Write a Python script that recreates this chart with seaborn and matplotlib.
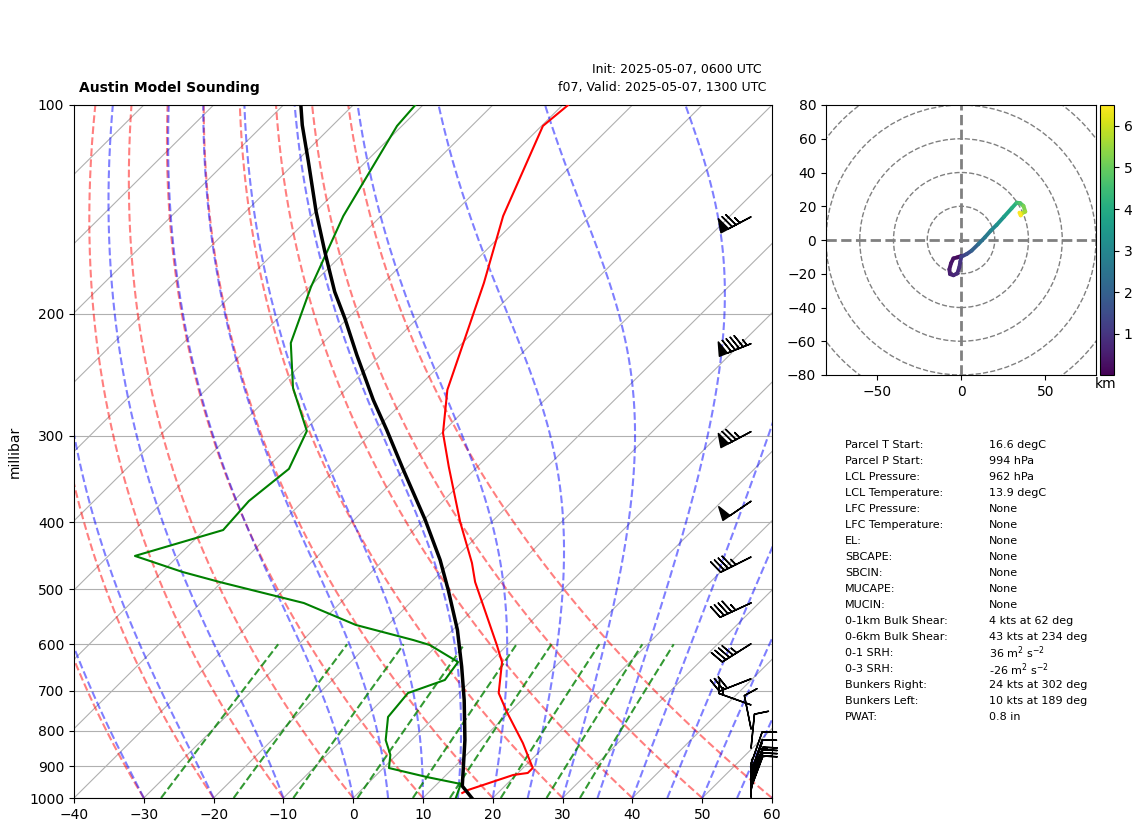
import numpy as np
import pandas as pd
import matplotlib
matplotlib.use('Agg')
import matplotlib.pyplot as plt
from matplotlib.collections import LineCollection
from matplotlib.colors import Normalize
from matplotlib.cm import ScalarMappable
from matplotlib.patches import Circle
from matplotlib.ticker import FixedLocator, NullLocator, ScalarFormatter
import seaborn as sns

# sounding (hPa, degC)
temp_p = [100, 107.2, 144.6, 180.6, 257.7, 297.4, 332.7, 399.7, 458, 487.9, 601.5, 636.5,
          705.6, 751.4, 833.4, 905.2, 920.2, 926.4, 973.8, 983.5]
temp_c = [-69.2, -69.8, -62.5, -55.6, -45.4, -39.8, -34.1, -24.5, -16.9, -13.7, -1.5, 1.7,
          5.7, 9.6, 16.4, 21.4, 21.4, 19.6, 15.3, 14.9]
dewp_p = [100, 107.2, 144.6, 183, 220.5, 256, 295.4, 335, 372.8, 410.5, 447.4, 471.8, 487.9,
          523.2, 562.7, 591.6, 601.5, 636.5, 675.6, 705.6, 764, 825, 866.5, 905.2, 932.6,
          954.5, 1000]
dewp_c = [-91.1, -90.7, -85.4, -79.8, -74.6, -67.8, -59.6, -56.7, -57.8, -57.3, -66.2, -57.1, -50.3,
          -35.2, -24.6, -14.2, -11.1, -4.6, -3.9, -7.3, -6.7, -3.7, -0.9, 0.8, 7.5,
          13.4, 14.7]
parcel_p = [100, 106.9, 120.7, 142.6, 162.8, 186, 203.2, 229.5, 266.5, 294.4, 336.2, 397, 453.4,
            501, 572, 646.4, 722.4, 825, 961, 1000]
parcel_c = [-107.5, -104.4, -98.25, -89.9, -82.9, -75.7, -70.4, -63.4, -54.55, -48.3, -40.15, -29.8, -21.9,
            -16.4, -9.33, -3.41, 1.78, 7.65, 13.9, 17.0]

# wind barbs (kts)
barb_p = [145, 221, 296, 373, 449, 523, 599, 673, 734, 795, 847, 893, 917, 926, 939, 947, 957, 967, 975, 984, 997]
barb_u = [66, 88, 66, 41, 40, 41, 38, 28, 14, 2, -1, -3.3, -3.3, -1.6, -3.5, -3.5, -3.5, -3.5, -2, -0.1, 0]
barb_v = [35, 35, 35, 28, 20, 19, 24, 11, -5, -10, -10, -9.5, -9.5, -4.7, -9.4, -9.4, -9.4, -9.4, -9.8, -5, -5]

# hodograph
hodo_u = [0, -2.2, -4.5, -5.9, -6.9, -6.5, -4.5, -2.2, -1, -0.4, 0.2, 3.4, 6.3, 10.3, 14.2,
          17.6, 21.1, 25.5, 30, 33, 35, 37, 38.1, 36, 35.4, 34.6]
hodo_v = [-9.5, -10.3, -10.9, -13.8, -17.4, -20.2, -20.9, -19.8, -16.2, -12.8, -9.9, -8.3, -6.3, -2.4, 1.6,
          5.5, 8.9, 13.8, 18.8, 22.1, 21.9, 20.2, 16.8, 15.8, 14.6, 16.2]
hodo_z = [0.02, 0.1, 0.2, 0.3, 0.4, 0.5, 0.6, 0.7, 0.8, 0.9, 1.0, 1.3, 1.6, 2.0, 2.4,
          2.7, 3.0, 3.3, 3.7, 4.1, 4.5, 4.8, 5.2, 5.6, 6.0, 6.5]

table_labels = ['Parcel T Start:', 'Parcel P Start:', 'LCL Pressure:', 'LCL Temperature:', 'LFC Pressure:',
                'LFC Temperature:', 'EL:', 'SBCAPE:', 'SBCIN:', 'MUCAPE:', 'MUCIN:', '0-1km Bulk Shear:',
                '0-6km Bulk Shear:', '0-1 SRH:', '0-3 SRH:', 'Bunkers Right:', 'Bunkers Left:', 'PWAT:']
table_values = ['16.6 degC', '994 hPa', '962 hPa', '13.9 degC', 'None', 'None', 'None', 'None', 'None',
                'None', 'None', '4 kts at 62 deg', '43 kts at 234 deg', '36 m$^2$ s$^{-2}$',
                '-26 m$^2$ s$^{-2}$', '24 kts at 302 deg', '10 kts at 189 deg', '0.8 in']

pressure_ticks = [1000, 900, 800, 700, 600, 500, 400, 300, 200, 100]
temp_ticks = [-40, -30, -20, -10, 0, 10, 20, 30, 40, 50, 60]
isotherm_t0 = np.arange(-140, 61, 10)
dry_t0 = np.arange(-40, 61, 10)
moist_t0 = [-40, -30, -20, -10, 0, 5, 10, 15, 20, 25, 30, 35, 40, 45, 50, 55, 60]
mixing_w = [0.0004, 0.001, 0.002, 0.004, 0.007, 0.01, 0.016, 0.024, 0.032]

W, H = 1142, 832


def skew(t, p):
    # 100 degC of lean between 1000 and 100 hPa
    return np.asarray(t, dtype=float) + 100 * np.log10(1000 / np.asarray(p, dtype=float))


def moist_slope(tk, p):
    es = 6.112 * np.exp(17.67 * (tk - 273.15) / (tk - 29.65))
    rs = 0.622 * es / (p - es)
    return (287.05 * tk + 2.5e6 * rs) / (1005.0 + 2.5e6 ** 2 * rs * 0.622 / (287.05 * tk ** 2)) / p


def moist_profile(t0, plevs):
    tk = t0 + 273.15
    out = [tk]
    for p0, p1 in zip(plevs[:-1], plevs[1:]):
        mid = tk + moist_slope(tk, p0) * (p1 - p0) / 2
        tk = tk + moist_slope(mid, (p0 + p1) / 2) * (p1 - p0)
        out.append(tk)
    return np.array(out) - 273.15


def guide_lines(ax, rows, **kws):
    frame = pd.DataFrame(rows, columns=['line', 'x', 'p'])
    sns.lineplot(data=frame, x='x', y='p', units='line', estimator=None, sort=False,
                 legend=False, ax=ax, **kws)


def px_axes(fig, left, top, right, bottom):
    return fig.add_axes([left / W, 1 - bottom / H, (right - left) / W, (bottom - top) / H])


fig = plt.figure(figsize=(W / 100, H / 100), dpi=100)
ax = px_axes(fig, 74, 105, 772, 798)
ax.set_yscale('log')
ax.set_xlim(-40, 60)
ax.set_ylim(1000, 100)

plevs = np.linspace(1000, 100, 400)

rows = []
for t0 in isotherm_t0:
    rows.append(pd.DataFrame({'line': t0, 'x': skew([t0, t0], [1000, 100]), 'p': [1000, 100]}))
guide_lines(ax, pd.concat(rows), color='#b0b0b0', lw=0.8, zorder=1)

rows = []
for t0 in dry_t0:
    t = (t0 + 273.15) * (plevs / 1000) ** 0.286 - 273.15
    rows.append(pd.DataFrame({'line': t0, 'x': skew(t, plevs), 'p': plevs}))
guide_lines(ax, pd.concat(rows), color='r', alpha=0.5, lw=1.5, linestyle='--', zorder=2)

rows = []
for t0 in moist_t0:
    t = moist_profile(t0, plevs)
    rows.append(pd.DataFrame({'line': t0, 'x': skew(t, plevs), 'p': plevs}))
guide_lines(ax, pd.concat(rows), color='b', alpha=0.5, lw=1.5, linestyle='--', zorder=2)

rows = []
mix_p = np.linspace(1000, 600, 50)
for w in mixing_w:
    e = mix_p * w / (0.622 + w)
    ln_e = np.log(e / 6.112)
    td = 243.5 * ln_e / (17.67 - ln_e)
    rows.append(pd.DataFrame({'line': w, 'x': skew(td, mix_p), 'p': mix_p}))
guide_lines(ax, pd.concat(rows), color='g', alpha=0.8, lw=1.5, linestyle='--', zorder=2)

for ps, ts, col, lw in [(temp_p, temp_c, 'r', 1.5), (dewp_p, dewp_c, 'g', 1.5), (parcel_p, parcel_c, 'k', 2.5)]:
    prof = pd.DataFrame({'x': skew(ts, ps), 'p': ps})
    sns.lineplot(data=prof, x='x', y='p', estimator=None, sort=False, color=col, lw=lw,
                 legend=False, ax=ax, zorder=4)

ax.barbs(np.full(len(barb_p), 0.97), barb_p, barb_u, barb_v, transform=ax.get_yaxis_transform(),
         clip_on=False, zorder=5, linewidth=1.1, color='k')

ax.yaxis.set_major_locator(FixedLocator(pressure_ticks))
ax.yaxis.set_major_formatter(ScalarFormatter())
ax.yaxis.set_minor_locator(NullLocator())
ax.set_xticks(temp_ticks)
ax.yaxis.grid(True, color='#b0b0b0', lw=0.8)
ax.set_axisbelow(True)
ax.set_xlabel('')
ax.set_ylabel('millibar')
ax.yaxis.set_label_coords((22 - 74) / 698, 0.5)

fig.text(79 / W, 1 - 88 / H, 'Austin Model Sounding', fontweight='bold', fontsize=10, va='center')
fig.text(762 / W, 1 - 70 / H, 'Init: 2025-05-07, 0600 UTC', fontsize=9, ha='right', va='center')
fig.text(766 / W, 1 - 88 / H, 'f07, Valid: 2025-05-07, 1300 UTC', fontsize=9, ha='right', va='center')

# hodograph
hax = px_axes(fig, 826, 105, 1096, 375)
hax.set_xlim(-80, 80)
hax.set_ylim(-80, 80)
hax.set_xticks([-50, 0, 50])
hax.set_yticks(np.arange(-80, 81, 20))
for r in [20, 40, 60, 80, 100]:
    hax.add_patch(Circle((0, 0), r, fill=False, ec='grey', ls='--', lw=1))
hax.axhline(0, color='grey', ls='--', lw=2)
hax.axvline(0, color='grey', ls='--', lw=2)

cmap = sns.color_palette('viridis', as_cmap=True)
norm = Normalize(0.015, 6.5)
pts = np.column_stack([hodo_u, hodo_v])
segs = np.stack([pts[:-1], pts[1:]], axis=1)
lc = LineCollection(segs, cmap=cmap, norm=norm, linewidths=2.8, capstyle='round', zorder=3)
lc.set_array(np.array(hodo_z[1:]))
hax.add_collection(lc)

cax = px_axes(fig, 1100, 105, 1114, 375)
fig.colorbar(ScalarMappable(norm=norm, cmap=cmap), cax=cax, ticks=[1, 2, 3, 4, 5, 6])
fig.text(1106 / W, 1 - 384 / H, 'km', fontsize=10, ha='center', va='center')

# parcel table
for i, (lab, val) in enumerate(zip(table_labels, table_values)):
    y = 444.5 + i * 16.05
    fig.text(845 / W, 1 - y / H, lab, fontsize=8, va='center')
    fig.text(989 / W, 1 - y / H, val, fontsize=8, va='center')

fig.savefig('out.png', dpi=100)
